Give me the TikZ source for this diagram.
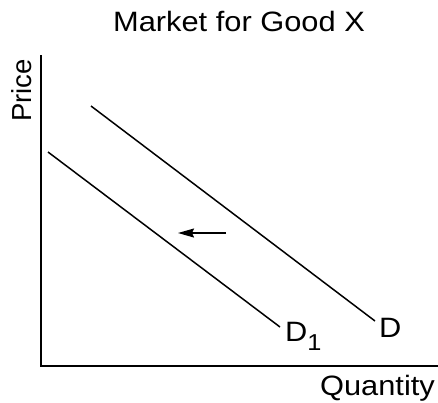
\documentclass[tikz,border=0pt]{standalone}
\usepackage{fontspec}
\usepackage{tikz}
\usetikzlibrary{arrows.meta,positioning}
\setmainfont{Liberation Sans}
\newfontfamily\widefont[FakeStretch=1.1]{Liberation Sans}
\newcommand{\subone}{\raisebox{-9bp}{\fontsize{23bp}{25bp}\selectfont 1}}

\begin{document}
\begin{tikzpicture}[
  x=1bp, y=-1bp,
  axis/.style={draw, line width=1.5bp},
  curve/.style={draw, line width=1.5bp},
  shiftarrow/.style={draw, line width=1.5bp, -{Stealth[length=16bp,width=9bp,inset=2bp]}},
  every node/.style={inner sep=0pt, font=\widefont\fontsize{28bp}{30bp}\selectfont}
]
\useasboundingbox (0,0) rectangle (438,402);

% axes
\coordinate (ytop) at (41,55);
\coordinate (origin) at (41,366);
\coordinate (xend) at (438,366);
\draw[axis] (ytop) -- (origin) -- (xend);

\node[anchor=base] (title) at (239,31.7) {Market for Good X};
\node[anchor=base west, rotate=90, font=\fontsize{27.5bp}{30bp}\selectfont] (price) at (31.5,122) {Price};
\node[anchor=base east] (qty) at (435,395) {Quantity};

% demand curves
\coordinate (dtop) at (91,106);
\coordinate (dbot) at (375,321);
\coordinate (donetop) at (48,152);
\coordinate (donebot) at (280,327);
\draw[curve] (dtop) -- (dbot);
\draw[curve] (donetop) -- (donebot);
\node[anchor=base west] (dlab) at (379,337) {D};
\node[anchor=base west] (donelab) at (285,341) {D\subone};

% shift
\coordinate (tail) at (226,233);
\coordinate (tip) at (178,233);
\draw[shiftarrow] (tail) -- (tip);
\end{tikzpicture}
\end{document}
